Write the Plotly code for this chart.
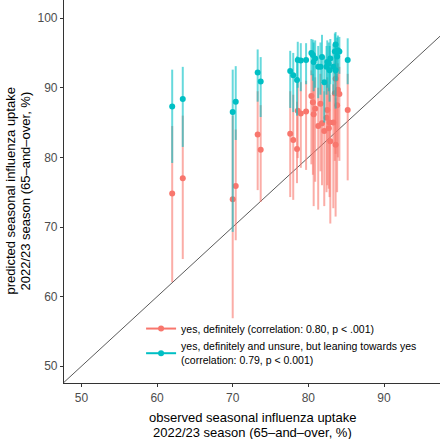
import plotly.graph_objects as go

# observed uptake (x) per region
observed = [62.0, 63.4, 70.0, 70.4, 73.3, 73.7, 77.6, 78.0, 78.5,
            78.6, 79.0, 79.7, 80.4, 80.6, 80.7, 80.9, 81.3, 81.6, 81.8,
            82.1, 82.4, 82.5, 82.8, 82.9, 83.3, 83.5, 83.6, 83.6, 83.9,
            84.1, 85.2, 82.7, 83.8]

# "yes, definitely" predictions
def_pred = [74.8, 77.0, 74.0, 75.9, 83.3, 81.1, 83.4, 82.5, 81.2,
            86.7, 86.3, 86.6, 88.8, 87.9, 86.2, 87.0, 84.5, 87.7, 84.9,
            83.8, 85.7, 86.8, 85.0, 82.3, 85.0, 89.2, 91.3, 81.8, 89.7,
            89.1, 86.8, 84.2, 87.5]
def_lo = [62.1, 65.4, 56.9, 68.1, 75.3, 73.6, 74.3, 73.9, 76.3,
          79.9, 78.5, 78.2, 79.0, 77.5, 73.0, 76.5, 72.5, 78.0, 76.0,
          73.0, 75.0, 76.0, 74.3, 70.5, 72.7, 79.5, 80.5, 71.5, 80.0,
          79.5, 76.7, 75.5, 75.0]
def_hi = [84.5, 86.0, 86.0, 84.0, 89.5, 87.5, 89.5, 89.0, 88.0,
          91.0, 90.8, 91.0, 92.5, 92.0, 91.0, 91.5, 90.0, 92.0, 90.5,
          89.5, 91.0, 91.5, 90.5, 89.0, 90.5, 93.5, 95.0, 88.5, 93.5,
          93.0, 92.0, 90.0, 92.0]

# "yes, definitely and unsure, but leaning towards yes" predictions
lean_pred = [87.3, 88.4, 86.5, 88.0, 92.2, 90.9, 92.4, 91.8, 91.1,
             94.0, 93.9, 94.0, 95.0, 94.7, 93.7, 94.2, 93.0, 93.0, 94.4,
             90.8, 93.0, 93.7, 92.5, 94.2, 93.0, 95.2, 96.2, 92.5, 95.4,
             95.2, 94.0, 93.5, 94.5]
lean_lo = [79.2, 81.5, 69.3, 82.5, 88.0, 85.8, 87.1, 86.5, 86.0,
           90.0, 89.5, 90.5, 91.8, 91.0, 89.5, 90.0, 88.5, 89.0, 91.0,
           85.0, 89.0, 90.0, 88.0, 90.5, 89.0, 92.0, 91.0, 87.0, 92.5,
           92.0, 90.5, 89.5, 91.0]
lean_hi = [92.6, 93.0, 92.6, 93.1, 95.5, 94.4, 95.3, 95.0, 94.5,
           96.6, 96.4, 96.4, 97.0, 96.9, 96.5, 96.8, 96.0, 96.5, 97.6,
           94.5, 96.0, 96.8, 96.0, 97.0, 96.2, 97.8, 98.0, 96.0, 97.5,
           97.3, 97.1, 96.5, 97.2]

series_names = ["yes, definitely (correlation: 0.80, p < .001)",
                "yes, definitely and unsure, but leaning towards yes<br>(correlation: 0.79, p < 0.001)"]

x_title_lines = ["observed seasonal influenza uptake",
                 "2022/23 season (65\u2013and\u2013over, %)"]
y_title_lines = ["predicted seasonal influenza uptake",
                 "2022/23 season (65\u2013and\u2013over, %)"]

x_ticks = [50, 60, 70, 80, 90]
y_ticks = [50, 60, 70, 80, 90, 100]
x_range = [47.7, 97.4]
y_range = [47.6, 102.6]

RED = "#F8766D"
CYAN = "#00BFC4"
RED_A = "rgba(248,118,109,0.6)"
CYAN_A = "rgba(0,191,196,0.6)"

fig = go.Figure()

# identity line spanning the axis range
fig.add_trace(go.Scatter(
    x=x_range, y=x_range, mode="lines",
    line=dict(color="#5a5a5a", width=1), showlegend=False, hoverinfo="skip"))

fig.add_trace(go.Scatter(
    x=observed, y=def_pred, mode="markers", showlegend=False,
    marker=dict(color=RED, size=6),
    error_y=dict(type="data", symmetric=False,
                 array=[h - p for h, p in zip(def_hi, def_pred)],
                 arrayminus=[p - l for p, l in zip(def_pred, def_lo)],
                 color=RED_A, thickness=2, width=0)))

fig.add_trace(go.Scatter(
    x=observed, y=lean_pred, mode="markers", showlegend=False,
    marker=dict(color=CYAN, size=6),
    error_y=dict(type="data", symmetric=False,
                 array=[h - p for h, p in zip(lean_hi, lean_pred)],
                 arrayminus=[p - l for p, l in zip(lean_pred, lean_lo)],
                 color=CYAN_A, thickness=2, width=0)))

# legend keys (line + point, as in the reference)
for name, c in zip(series_names, [RED, CYAN]):
    fig.add_trace(go.Scatter(
        x=[None], y=[None], mode="lines+markers", name=name,
        line=dict(color=c, width=2), marker=dict(color=c, size=6)))

axis_common = dict(showgrid=False, zeroline=False, showline=True,
                   linecolor="#333333", linewidth=1.2, ticks="outside",
                   ticklen=3, tickcolor="#333333", automargin=False,
                   tickfont=dict(size=12, color="#4D4D4D"))

PLOT_W, PLOT_H = 376, 383
annotations = []
# x-axis title, two lines (centres at y = 417 and 432 px)
for line, ypx in zip(x_title_lines, [417, 432]):
    annotations.append(dict(text=line, xref="paper", yref="paper",
                            x=0.5, y=-(ypx - PLOT_H) / PLOT_H,
                            xanchor="center", yanchor="middle",
                            showarrow=False, font=dict(size=13)))
# y-axis title, two lines (centres at x = 10 and 25 px)
for line, xpx in zip(y_title_lines, [10, 25]):
    annotations.append(dict(text=line, textangle=-90, xref="paper", yref="paper",
                            x=-(64 - xpx) / PLOT_W, y=0.5,
                            xanchor="center", yanchor="middle",
                            showarrow=False, font=dict(size=13)))

fig.update_layout(
    width=440, height=439,
    margin=dict(l=64, r=0, t=0, b=56),
    paper_bgcolor="white", plot_bgcolor="white",
    font=dict(family="Liberation Sans, Arial, sans-serif", color="black"),
    xaxis=dict(range=x_range, tickvals=x_ticks, **axis_common),
    yaxis=dict(range=y_range, tickvals=y_ticks, **axis_common),
    legend=dict(x=0.205, y=0.18, xanchor="left", yanchor="top",
                bgcolor="rgba(0,0,0,0)", font=dict(size=10.5),
                itemwidth=30, tracegroupgap=0),
    annotations=annotations,
)

fig.write_html("out.html", config={"displayModeBar": False},
               post_script="document.body.style.margin='0';document.body.style.padding='0';")
